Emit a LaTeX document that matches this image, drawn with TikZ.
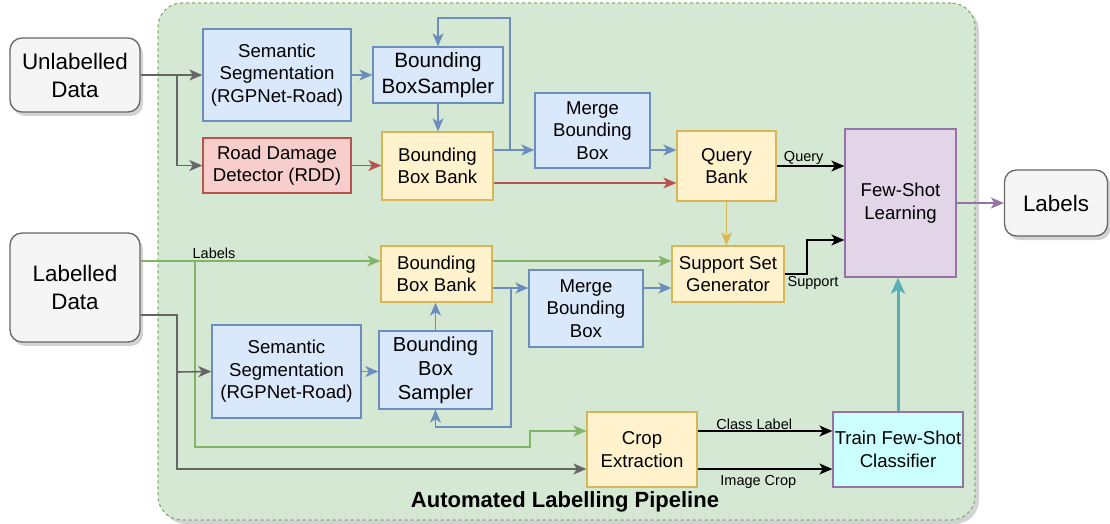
\documentclass[tikz,border=0pt]{standalone}
\usepackage{fontspec}
\setmainfont{Liberation Sans}
\usetikzlibrary{arrows.meta,shadows,calc}
\definecolor{bfill}{HTML}{DAE8FC}\definecolor{bline}{HTML}{6C8EBF}
\definecolor{rfill}{HTML}{F8CECC}\definecolor{rline}{HTML}{B85450}
\definecolor{yfill}{HTML}{FFF2CC}\definecolor{yline}{HTML}{D6B656}
\definecolor{pfill}{HTML}{E1D5E7}\definecolor{pline}{HTML}{9673A6}
\definecolor{gfill}{HTML}{D5E8D4}\definecolor{gline}{HTML}{82B366}
\definecolor{kfill}{HTML}{F5F5F5}\definecolor{kline}{HTML}{666666}
\definecolor{cfill}{HTML}{CCFFFF}\definecolor{tline}{HTML}{5AAFB5}
\tikzset{
  base/.style={draw, line width=1.3pt, inner sep=0pt, align=center, font=\fontsize{18.6}{22.5}\selectfont},
  bluebox/.style={base, fill=bfill, draw=bline},
  redbox/.style={base, fill=rfill, draw=rline},
  yelbox/.style={base, fill=yfill, draw=yline},
  purbox/.style={base, fill=pfill, draw=pline},
  cyanbox/.style={base, fill=cfill, draw=pline},
  graybox/.style={base, fill=kfill, draw=kline, rounded corners=12pt, font=\fontsize{22.4}{28}\selectfont,
     drop shadow={opacity=0.35, shadow xshift=3pt, shadow yshift=-4pt}},
  conn/.style={line width=1.6pt, -{Stealth[length=13pt,width=11pt,inset=3.5pt]}},
  elabel/.style={font=\fontsize{14.5}{16}\selectfont, inner sep=1pt},
}
\begin{document}
\begin{tikzpicture}[x=1pt,y=-1pt]
\useasboundingbox (0,0) rectangle (1110,524);
% container
\node[draw=gline, fill=gfill, dashed, line width=1.2pt, rounded corners=24pt,
  minimum width=817pt, minimum height=517pt, inner sep=0pt,
  drop shadow={opacity=0.35, shadow xshift=4pt, shadow yshift=-4pt}] (cont) at (566.5,261.5) {};
\node[font=\bfseries\fontsize{22}{24}\selectfont] (title) at (565,502) {Automated Labelling Pipeline};

% outside
\node[graybox, minimum width=130pt, minimum height=74pt] (ud) at (75,75) {Unlabelled\\Data};
\node[graybox, minimum width=130pt, minimum height=109pt] (ld) at (75,287.5) {Labelled\\Data};
\node[graybox, minimum width=103pt, minimum height=66pt] (lab) at (1056,203) {Labels};

% top branch
\node[bluebox, minimum width=148pt, minimum height=92pt] (ss1) at (277,75) {Semantic\\Segmentation\\(RGPNet-Road)};
\node[bluebox, minimum width=130pt, minimum height=56pt, font=\fontsize{20.7}{26}\selectfont] (bbs1) at (438,75) {Bounding\\BoxSampler};
\node[redbox, minimum width=148pt, minimum height=55pt] (rdd) at (277,165.5) {Road Damage\\Detector (RDD)};
\node[yelbox, minimum width=111pt, minimum height=68pt] (bbb1) at (437.5,166) {Bounding\\Box Bank};
\node[bluebox, minimum width=115pt, minimum height=75pt] (mbb1) at (592.5,130.5) {Merge\\Bounding\\Box};
\node[yelbox, minimum width=99pt, minimum height=70pt] (qb) at (726.5,166) {Query\\Bank};
\node[purbox, minimum width=111pt, minimum height=148pt] (fsl) at (900.5,203) {Few-Shot\\Learning};

% bottom branch
\node[yelbox, minimum width=111pt, minimum height=56pt] (bbb2) at (436.5,274) {Bounding\\Box Bank};
\node[yelbox, minimum width=112pt, minimum height=56pt] (ssg) at (728,274) {Support Set\\Generator};
\node[bluebox, minimum width=114pt, minimum height=77pt] (mbb2) at (586,308.5) {Merge\\Bounding\\Box};
\node[bluebox, minimum width=149pt, minimum height=93pt] (ss2) at (286.5,371.5) {Semantic\\Segmentation\\(RGPNet-Road)};
\node[bluebox, minimum width=113pt, minimum height=78pt, font=\fontsize{20.2}{24}\selectfont] (bbs2) at (435.5,370) {Bounding\\Box\\Sampler};
\node[yelbox, minimum width=110pt, minimum height=75pt] (ce) at (642,449.5) {Crop\\Extraction};
\node[cyanbox, minimum width=130pt, minimum height=75pt] (tfsc) at (898,449.5) {Train Few-Shot\\Classifier};

% junction coordinates
\coordinate (j1) at (177,75);
\coordinate (j2) at (510,150);
\coordinate (j3) at (195,261);
\coordinate (j4) at (177,372);
\coordinate (j5) at (511,288);

% top connectors
\draw[conn, kline] (ud.east) -- (ss1.west);
\draw[conn, kline] (j1) |- (rdd.west);
\draw[conn, bline] (ss1.east) -- (ss1.east -| bbs1.west);
\draw[conn, bline] (bbs1.south) -- (bbs1.south |- bbb1.north);
\draw[conn, rline] (rdd.east) -- (rdd.east -| bbb1.west);
\draw[conn, bline] (bbb1.east |- j2) -- (mbb1.west |- j2);
\draw[conn, bline] (j2) -- (510,18) -| (bbs1.north);
\draw[conn, rline] ([yshift=-17pt]bbb1.east) -- ([yshift=-17pt]qb.west);
\draw[conn, bline] (mbb1.east |- j2) -- (qb.west |- j2);
\draw[conn, black] (qb.east) -- node[elabel, above, pos=0.4] {Query} (qb.east -| fsl.west);
\draw[conn, yline] (qb.south) -- (qb.south |- ssg.north);
\draw[conn, black] (ssg.east) -- (807,274) |- ([yshift=-37pt]fsl.west);
\node[elabel] (suplab) at (813,283) {Support};
\draw[conn, pline] (fsl.east) -- (fsl.east -| lab.west);

% bottom connectors
\draw[conn, gline] ([yshift=26.5pt]ld.east) -- ([yshift=13pt]bbb2.west);
\node[elabel] (lablab) at (214,253) {Labels};
\draw[conn, gline] (j3) -- (195,447) -- (530,447) -- (530,431) -- ([yshift=18.5pt]ce.west);
\draw[conn, gline] ([yshift=13pt]bbb2.east) -- ([yshift=13pt]ssg.west);
\draw[conn, kline] ([yshift=-27.5pt]ld.east) -| (j4) -- (ss2.west);
\draw[conn, kline] (j4) |- ([yshift=-19.5pt]ce.west);
\draw[conn, bline] (ss2.east) -- (ss2.east -| bbs2.west);
\draw[conn, bline] (bbs2.north) -- (bbs2.north |- bbb2.south);
\draw[conn, bline] (bbb2.east |- j5) -- (mbb2.west |- j5);
\draw[conn, bline] (j5) -- (511,427) -| (bbs2.south);
\draw[conn, bline] (mbb2.east |- j5) -- (ssg.west |- j5);
\draw[conn, black] ([yshift=18.5pt]ce.east) -- node[elabel, above, pos=0.42] {Class Label} ([yshift=18.5pt]tfsc.west);
\draw[conn, black] ([yshift=-19.5pt]ce.east) -- node[elabel, below, pos=0.45, yshift=-5pt] {Image Crop} ([yshift=-19.5pt]tfsc.west);
\draw[tline, line width=3pt, -{Stealth[length=16pt,width=14pt,inset=4pt]}] (tfsc.north) -- (tfsc.north |- fsl.south);
\end{tikzpicture}
\end{document}
